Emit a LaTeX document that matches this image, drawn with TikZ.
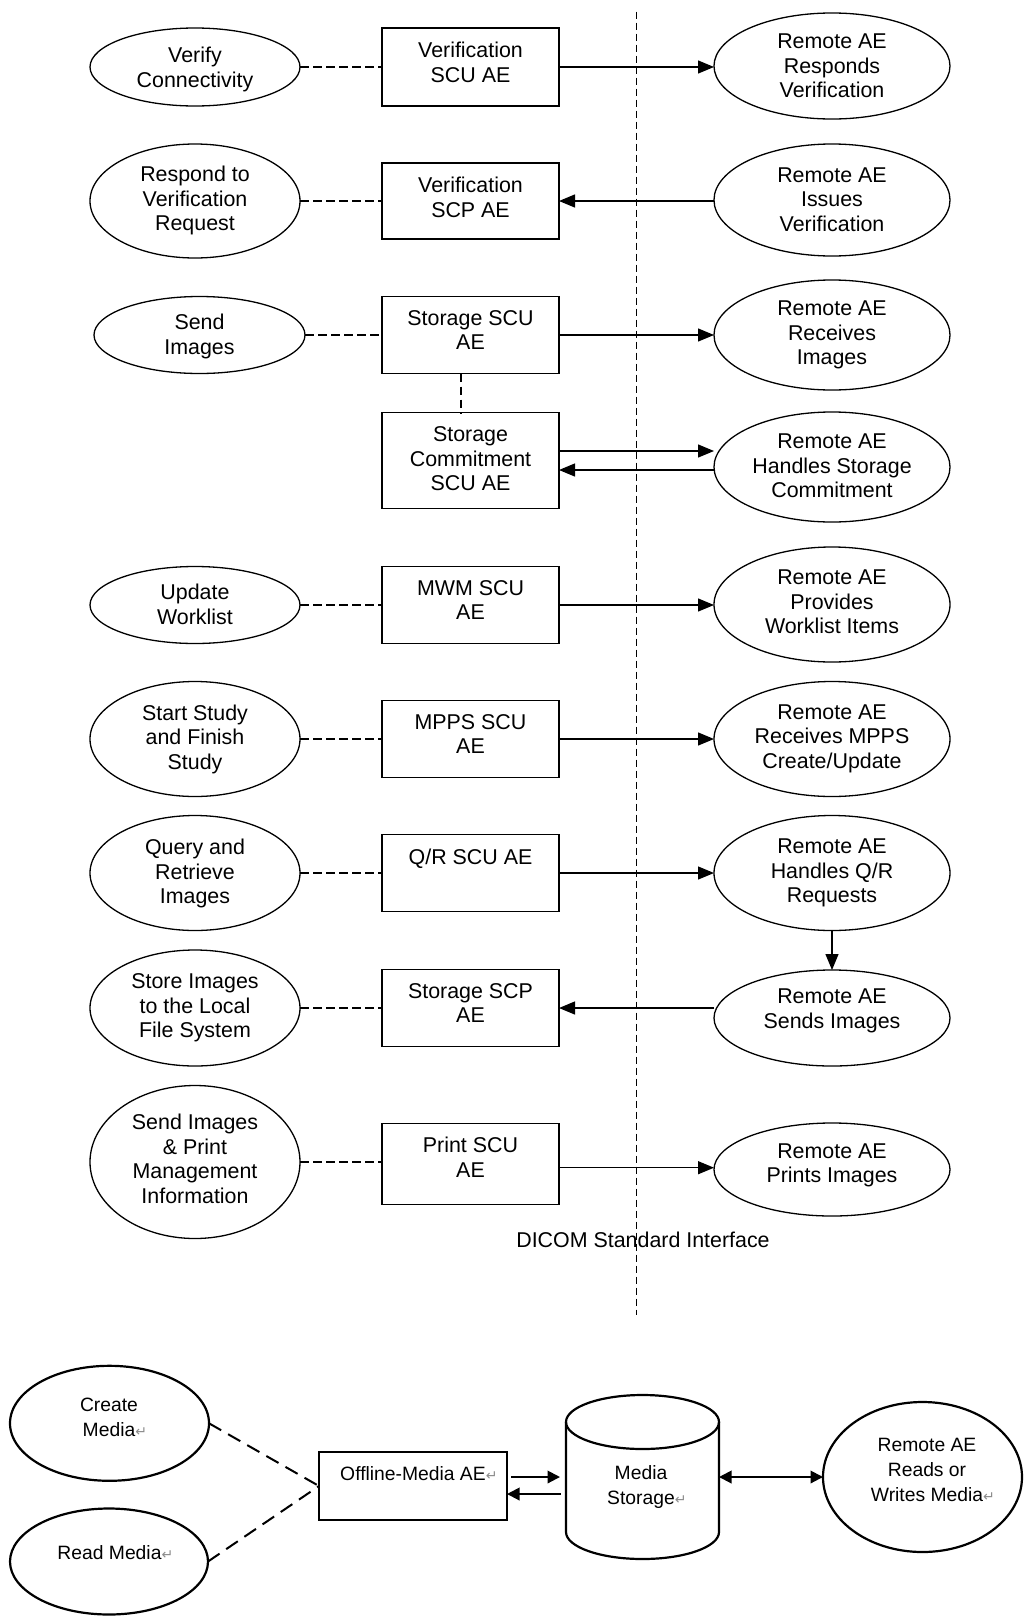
\documentclass[tikz,border=0pt]{standalone}
\usepackage{fontspec}
\setmainfont{Liberation Sans}
\newfontfamily\marksfont{DejaVu Sans}
\usetikzlibrary{arrows.meta,shapes.geometric}

% paragraph mark after a text, kept out of the line centring
\newcommand{\retmark}{\rlap{\textcolor{black!45}{\marksfont\fontsize{14}{14}\selectfont ↵}}}

% an ellipse with its text: name, x, y, width, height, top of text, text
\newcommand{\ovalitem}[7]{%
  \node[oval, minimum width=#4pt, minimum height=#5pt] (#1) at (#2,#3) {};
  \node[txt] (#1-t) at (#2,#6) {#7};}

% an application entity box: name, y, height, text
\newcommand{\aeitem}[4]{%
  \node[aebox, minimum height=#3pt] (#1) at (470.5,#2) {};
  \node[txt] (#1-t) at ([yshift=-14pt]#1.north) {#4};}

\begin{document}
\begin{tikzpicture}[x=1pt, y=-1pt,
  every node/.style={inner sep=0pt, outer sep=0pt},
  upfont/.style={font=\fontsize{21.4}{24.5}\selectfont},
  lowfont/.style={font=\fontsize{19.3}{25}\selectfont},
  oval/.style={ellipse, draw, line width=1.3pt},
  aebox/.style={rectangle, draw, line width=1.3pt, minimum width=177pt},
  txt/.style={upfont, align=center, anchor=north},
  ltxt/.style={lowfont, align=center, anchor=north},
  link/.style={line width=1.4pt, dash pattern=on 8.5pt off 4.5pt},
  iface/.style={line width=1.3pt, dash pattern=on 7pt off 4pt},
  msg/.style={line width=1.3pt, -{Triangle[length=16pt,width=13pt]}},
  boldoval/.style={ellipse, draw, line width=2.2pt},
  boldbox/.style={rectangle, draw, line width=2.2pt},
  medialink/.style={line width=2pt, dash pattern=on 14pt off 8pt},
  mediamsg/.style={line width=2pt, -{Triangle[length=12.5pt,width=12.5pt]}},
  mediaboth/.style={line width=2pt, {Triangle[length=12.5pt,width=12.5pt]}-{Triangle[length=12.5pt,width=12.5pt]}}
]
\fill[white] (0,0) rectangle (1027,1617);
\useasboundingbox (0,0) rectangle (1027,1617);

% ---------- local real-world activities ----------
\ovalitem{l1}{195}{67}{210}{78}{47.3}{Verify\\Connectivity}
\ovalitem{l2}{195}{201}{210}{114}{166.3}{Respond to\\Verification\\Request}
\ovalitem{l3}{199.5}{335}{211}{77}{314}{Send\\Images}
\ovalitem{l5}{195}{605}{210}{77}{584}{Update\\Worklist}
\ovalitem{l6}{195}{739}{210}{115}{704.6}{Start Study\\and Finish\\Study}
\ovalitem{l7}{195}{873}{210}{115}{839}{Query and\\Retrieve\\Images}
\ovalitem{l8}{195}{1008}{210}{116}{974}{Store Images\\to the Local\\File System}
\ovalitem{l9}{195}{1162}{210}{153}{1114}{Send Images\\\& Print\\Management\\Information}

% ---------- application entities ----------
\aeitem{b1}{67}{78}{Verification\\SCU AE}
\aeitem{b2}{201}{76}{Verification\\SCP AE}
\aeitem{b3}{335}{77}{Storage SCU\\AE}
\aeitem{b4}{460.5}{95.6}{Storage\\Commitment\\SCU AE}
\aeitem{b5}{605}{77}{MWM SCU\\AE}
\aeitem{b6}{739}{77}{MPPS SCU\\AE}
\aeitem{b7}{873}{77}{Q/R SCU AE}
\aeitem{b8}{1008}{77}{Storage SCP\\AE}
\aeitem{b9}{1163.7}{81}{Print SCU\\AE}

% ---------- remote activities ----------
\ovalitem{r1}{832}{66}{236}{106}{34}{Remote AE\\Responds\\Verification}
\ovalitem{r2}{832}{200}{236}{112}{167.3}{Remote AE\\Issues\\Verification}
\ovalitem{r3}{832}{335}{236}{110}{300.8}{Remote AE\\Receives\\Images}
\ovalitem{r4}{832}{467}{236}{110}{434}{Remote AE\\Handles Storage\\Commitment}
\ovalitem{r5}{832}{604.5}{236}{115}{570}{Remote AE\\Provides\\Worklist Items}
\ovalitem{r6}{832}{739}{236}{115}{704.6}{Remote AE\\Receives MPPS\\Create/Update}
\ovalitem{r7}{832}{873}{236}{115}{839}{Remote AE\\Handles Q/R\\Requests}
\ovalitem{r8}{832}{1018}{236}{96}{989}{Remote AE\\Sends Images}
\ovalitem{r9}{832}{1169.5}{236}{93}{1143.3}{Remote AE\\Prints Images}

% ---------- associations between activities and entities ----------
\foreach \i in {1,2,3,5,6,7,8,9}
  \draw[link] (l\i.east) -- (l\i.east -| b\i.west);
\draw[link] ([xshift=-9.5pt]b3.south) -- ([xshift=-9.5pt]b4.north);

% ---------- DICOM messages ----------
\draw[msg] (b1.east) -- (b1.east -| r1.west);
\draw[msg] (b2.east -| r2.west) -- (b2.east);
\draw[msg] (b3.east) -- (b3.east -| r3.west);
\coordinate (b4up) at ([yshift=9.5pt]b4.east);
\coordinate (b4dn) at ([yshift=-9.5pt]b4.east);
\draw[msg] (b4up) -- (b4up -| r4.west);
\draw[msg] (b4dn -| r4.west) -- (b4dn);
\draw[msg] (b5.east) -- (b5.east -| r5.west);
\draw[msg] (b6.east) -- (b6.east -| r6.west);
\draw[msg] (b7.east) -- (b7.east -| r7.west);
\draw[msg] (r7.south) -- (r8.north);
\draw[msg] (b8.east -| r8.west) -- (b8.east);
\coordinate (b9out) at ([yshift=-4pt]b9.east);
\draw[msg] (b9out) -- (b9out -| r9.west);

% ---------- interface boundary ----------
\node[upfont, anchor=north] (dicom) at (643,1232.3) {DICOM Standard Interface};
\coordinate (ifaceTop) at (636.7,11.7);
\coordinate (ifaceBot) at (636.7,1315);
\draw[iface] (ifaceTop) -- (ifaceBot);

% ---------- offline media ----------
\node[boldoval, minimum width=199pt, minimum height=115pt] (cm) at (109.5,1423.3) {};
\node[ltxt] (cm-t) at (109,1398) {Create\\Media\retmark};
\node[boldoval, minimum width=198pt, minimum height=106pt] (rd) at (109,1561.5) {};
\node[ltxt] (rd-t) at (109.5,1545) {Read Media\retmark};

\node[boldbox, minimum width=188pt, minimum height=68pt] (off) at (413,1486) {};
\node[ltxt] (off-t) at (413,1466) {Offline-Media AE\retmark};

\node[minimum width=153pt, minimum height=164pt] (stor) at (642.5,1477) {};
\draw[line width=2.2pt] ([yshift=-27pt]stor.north west) -- ([yshift=27pt]stor.south west)
  arc[start angle=180, end angle=360, x radius=76.5pt, y radius=27pt]
  -- ([yshift=-27pt]stor.north east);
\draw[line width=2.2pt] ([yshift=-27pt]stor.north) ellipse [x radius=76.5pt, y radius=27pt];
\node[ltxt] (stor-t) at (641,1465) {Media\\Storage\retmark};

\node[boldoval, minimum width=199pt, minimum height=150pt] (rm) at (922.5,1477) {};
\node[ltxt] (rm-t) at (927,1438) {Remote AE\\Reads or\\Writes Media\retmark};

\draw[medialink] (cm.east) -- (off.west);
\draw[medialink] (rd.east) -- (off.west);
\coordinate (offA) at ([shift={(4pt,9pt)}]off.east);
\coordinate (storA) at ([xshift=-6pt]stor.west);
\coordinate (storB) at ([shift={(-5.5pt,-17pt)}]stor.west);
\coordinate (offB) at ([yshift=-8pt]off.east);
\draw[mediamsg] (offA) -- (storA);
\draw[mediamsg] (storB) -- (offB);
\draw[mediaboth] (stor.east) -- (rm.west);
\end{tikzpicture}
\end{document}
